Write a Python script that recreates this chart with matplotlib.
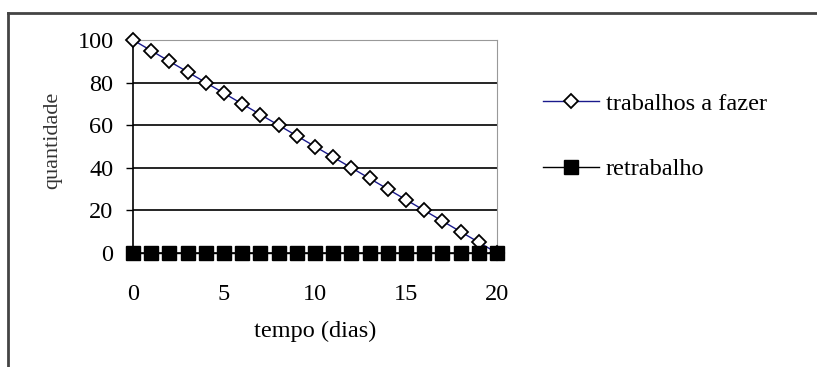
import matplotlib
matplotlib.use("Agg")
import matplotlib.pyplot as plt
from matplotlib.lines import Line2D

days = list(range(0, 21))
trabalhos_a_fazer = [100, 95, 90, 85, 80, 75, 70, 65, 60, 55, 50,
                     45, 40, 35, 30, 25, 20, 15, 10, 5, 0]
retrabalho = [0] * 21
x_ticks = [0, 5, 10, 15, 20]
y_ticks = [0, 20, 40, 60, 80, 100]

plt.rcParams['font.family'] = ['Liberation Serif', 'DejaVu Serif']

W, H = 817, 367
fig = plt.figure(figsize=(W / 100, H / 100), dpi=100)
fig.patch.set_facecolor('white')

# plot area in pixels: x 133..497, y 40..253
l, r, t, b = 133, 497, 40, 253
ax = fig.add_axes([l / W, 1 - b / H, (r - l) / W, (b - t) / H])

ax.plot(days, trabalhos_a_fazer, color='#1a1a8c', lw=1.0, marker='D',
        markersize=7, markerfacecolor='white', markeredgecolor='black',
        markeredgewidth=1.3, label='trabalhos a fazer', zorder=3, clip_on=False)
ax.plot(days, retrabalho, color='black', lw=1.0, marker='s',
        markersize=9.5, markerfacecolor='black', markeredgecolor='black',
        label='retrabalho', zorder=4, clip_on=False)

ax.set_xlim(0, 20)
ax.set_ylim(0, 100)
ax.set_xticks(x_ticks)
ax.set_yticks(y_ticks)
ax.tick_params(axis='both', labelsize=17.5, direction='out', length=5,
               width=1, colors='black')
ax.tick_params(axis='y', pad=9)
ax.tick_params(axis='x', pad=17)

for yv in [20, 40, 60, 80]:
    ax.axhline(yv, color='black', lw=1.2, zorder=1)

ax.spines['left'].set_color('black')
ax.spines['bottom'].set_color('black')
ax.spines['left'].set_linewidth(1.2)
ax.spines['bottom'].set_linewidth(1.2)
ax.spines['top'].set_color('#999999')
ax.spines['right'].set_color('#999999')

ax.set_xlabel('tempo (dias)', fontsize=17.5, labelpad=12)
ax.set_ylabel('quantidade', fontsize=16, color='#333333')
ax.yaxis.set_label_coords(-0.195, 0.53)

fig.legend(loc='upper left', bbox_to_anchor=(533 / W, 1 - 83 / H),
           frameon=False, fontsize=17.5, labelspacing=1.8, handlelength=2.3,
           handletextpad=0.3, borderaxespad=0)

# outer border (top and left visible)
fig.add_artist(Line2D([8 / W, 1.0], [1 - 13 / H, 1 - 13 / H],
                      transform=fig.transFigure, color='#444444', lw=2))
fig.add_artist(Line2D([8 / W, 8 / W], [1 - 13 / H, 0.0],
                      transform=fig.transFigure, color='#444444', lw=2))

fig.savefig('out.png', dpi=100)
